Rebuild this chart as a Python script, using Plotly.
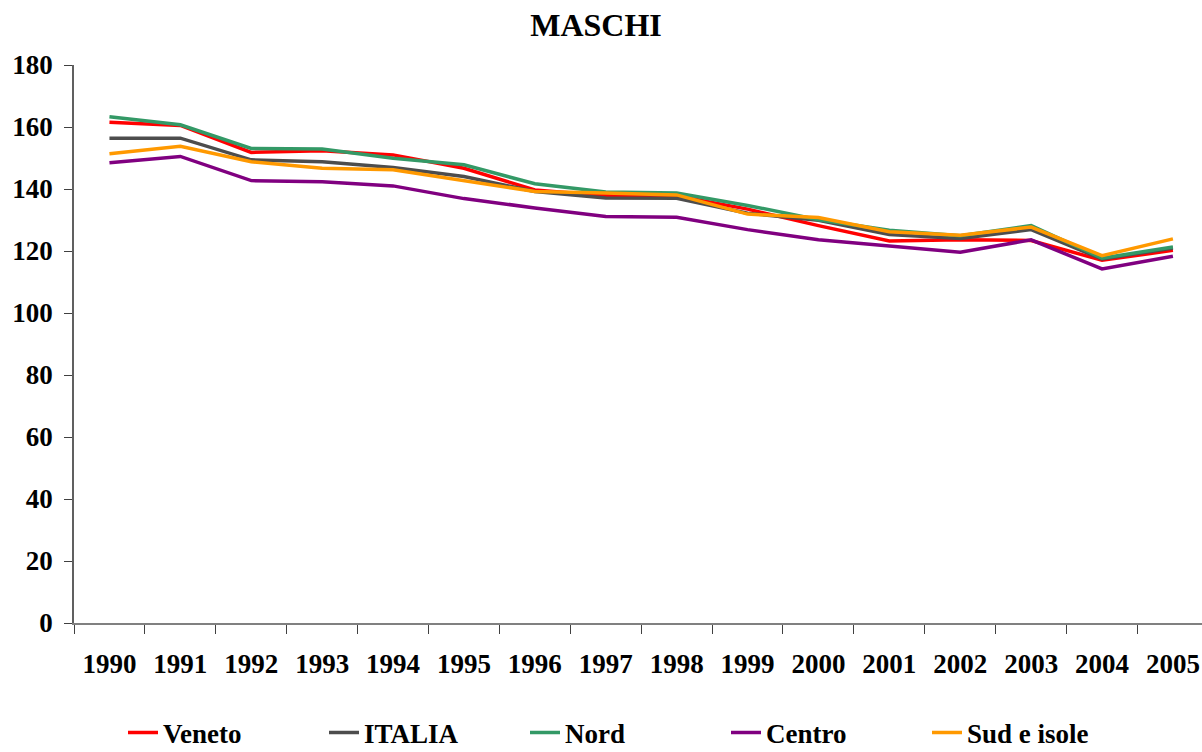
import plotly.graph_objects as go

years = [str(y) for y in range(1990, 2006)]

veneto = [161.5, 160.5, 151.8, 152.3, 151.0, 146.7, 139.7, 137.8, 137.8, 133.5, 128.2, 123.2, 123.6, 123.4, 117.0, 120.2]
italia = [156.4, 156.4, 149.4, 148.8, 146.9, 144.0, 139.2, 137.1, 137.0, 132.2, 129.9, 125.3, 124.0, 126.9, 117.4, 121.0]
nord = [163.3, 160.7, 153.1, 152.9, 149.9, 147.8, 141.7, 139.0, 138.7, 134.7, 130.1, 126.7, 124.9, 128.2, 117.7, 121.3]
centro = [148.5, 150.5, 142.7, 142.3, 141.0, 136.9, 133.9, 131.1, 130.9, 126.9, 123.6, 121.7, 119.6, 123.6, 114.2, 118.3]
sud = [151.4, 153.8, 148.8, 146.7, 146.2, 142.7, 139.2, 138.7, 138.1, 131.9, 130.8, 126.2, 125.1, 127.7, 118.5, 123.9]

series = [
    ("Veneto", veneto, "#FF0000"),
    ("ITALIA", italia, "#4D4D4D"),
    ("Nord", nord, "#339966"),
    ("Centro", centro, "#800080"),
    ("Sud e isole", sud, "#FF9900"),
]

FONT = "Liberation Serif, Times New Roman, serif"

fig = go.Figure()
for name, vals, col in series:
    fig.add_trace(go.Scatter(x=years, y=vals, name=name, mode="lines",
                             line=dict(color=col, width=3.5)))

fig.update_layout(
    width=1202, height=752,
    paper_bgcolor="white", plot_bgcolor="white",
    margin=dict(l=74, r=0, t=65, b=129),
    title=dict(text="MASCHI", x=596/1202, xref="container", xanchor="center",
               y=1-25/752, yref="container", yanchor="middle",
               font=dict(family=FONT, size=32, color="black", weight="bold")),
    showlegend=True,
    legend=dict(orientation="h", xref="container", yref="container",
                x=123/1202, xanchor="left", y=19/752, yanchor="middle",
                font=dict(family=FONT, size=27, color="black", weight="bold"),
                entrywidth=156, entrywidthmode="pixels",
                bgcolor="rgba(0,0,0,0)"),
    xaxis=dict(type="category", range=[-0.5, 15.41], automargin=False,
               showline=True, linecolor="#808080", linewidth=2,
               ticks="outside", tickson="boundaries", ticklen=9, tickcolor="#404040",
               showgrid=False, zeroline=False,
               tickfont=dict(family=FONT, size=27, color="black", weight="bold"),
               ticklabelstandoff=16),
    yaxis=dict(range=[0, 180], tickvals=list(range(0, 181, 20)), automargin=False,
               showline=True, linecolor="#606060", linewidth=1.5,
               ticks="outside", ticklen=8, tickcolor="#404040",
               showgrid=False, zeroline=False,
               tickfont=dict(family=FONT, size=27, color="black", weight="bold"),
               ticklabelstandoff=6),
)

fig.write_html("out.html", config={"displayModeBar": False},
               post_script="document.body.style.margin='0px';document.body.style.overflow='hidden';")
